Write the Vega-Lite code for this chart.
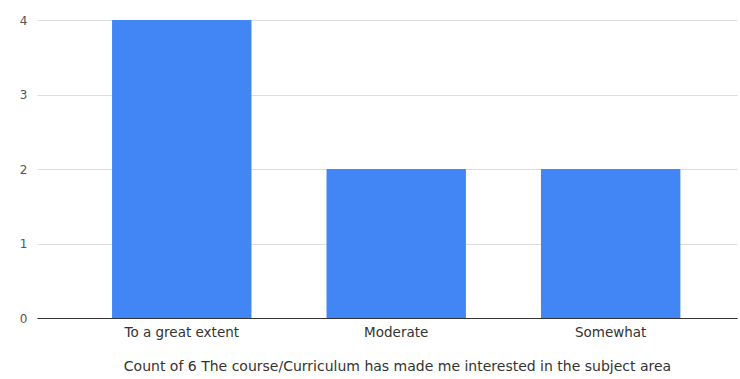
{
  "$schema": "https://vega.github.io/schema/vega-lite/v6.json",
  "width": 700,
  "height": 298,
  "autosize": "none",
  "padding": {"left": 37, "top": 20, "right": 3, "bottom": 61},
  "background": "white",
  "data": {"values": [
    {"answer": "To a great extent", "count": 4},
    {"answer": "Moderate", "count": 2},
    {"answer": "Somewhat", "count": 2}
  ]},
  "mark": {"type": "bar", "color": "#4285F4"},
  "encoding": {
    "x": {
      "field": "answer", "type": "nominal", "sort": null,
      "scale": {"paddingInner": 0.35, "paddingOuter": 0.307, "align": 0.57},
      "axis": {
        "title": "Count of 6 The course/Curriculum has made me interested in the subject area",
        "labelAngle": 0, "ticks": false, "labelPadding": 7,
        "labelFont": "DejaVu Sans", "labelFontSize": 13.5, "labelColor": "#333",
        "titleFont": "DejaVu Sans", "titleFontSize": 14, "titleFontWeight": "normal", "titleColor": "#333",
        "titlePadding": 21, "titleX": 360, "domainColor": "#333", "domainWidth": 1
      }
    },
    "y": {
      "field": "count", "type": "quantitative",
      "scale": {"domain": [0, 4], "nice": false},
      "axis": {
        "title": null, "values": [0, 1, 2, 3, 4], "ticks": false, "domain": false,
        "labelPadding": 10, "labelFont": "DejaVu Sans", "labelFontSize": 12, "labelColor": "#555",
        "gridColor": "#dddddd", "format": "d"
      }
    }
  },
  "config": {"view": {"stroke": null}}
}
